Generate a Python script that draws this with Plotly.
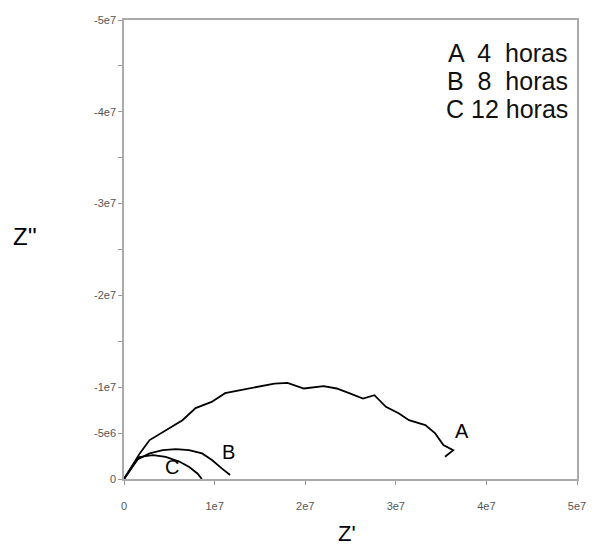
import plotly.graph_objects as go

# Curve A (4 horas)
a_x = [0, 0.174e7, 0.283e7, 0.464e7, 0.645e7, 0.790e7, 0.967e7, 1.116e7, 1.293e7, 1.478e7,
       1.660e7, 1.804e7, 1.986e7, 2.203e7, 2.348e7, 2.492e7, 2.638e7, 2.764e7, 2.891e7,
       3.036e7, 3.145e7, 3.326e7, 3.435e7, 3.525e7, 3.634e7, 3.543e7]
a_y = [0, -0.279e7, -0.424e7, -0.533e7, -0.641e7, -0.772e7, -0.840e7, -0.935e7, -0.967e7, -1.003e7,
       -1.040e7, -1.047e7, -0.986e7, -1.011e7, -0.986e7, -0.932e7, -0.877e7, -0.913e7, -0.786e7,
       -0.714e7, -0.641e7, -0.587e7, -0.497e7, -0.370e7, -0.315e7, -0.242e7]
# Curve B (8 horas)
b_x = [0, 0.138e7, 0.283e7, 0.427e7, 0.573e7, 0.717e7, 0.862e7, 0.971e7, 1.079e7, 1.171e7]
b_y = [0, -0.207e7, -0.279e7, -0.315e7, -0.326e7, -0.315e7, -0.279e7, -0.207e7, -0.116e7, -0.043e7]
# Curve C (12 horas)
c_x = [0, 0.17e7, 0.32e7, 0.46e7, 0.61e7, 0.72e7, 0.81e7, 0.86e7]
c_y = [0, -0.24e7, -0.26e7, -0.24e7, -0.19e7, -0.13e7, -0.06e7, 0]

x_ticks = [0, 1e7, 2e7, 3e7, 4e7, 5e7]
x_labels = ["0", "1e7", "2e7", "3e7", "4e7", "5e7"]
y_ticks = [0, -5e6, -1e7, -1.5e7, -2e7, -2.5e7, -3e7, -3.5e7, -4e7, -4.5e7, -5e7]
y_labels = ["0", "-5e6", "-1e7", "", "-2e7", "", "-3e7", "", "-4e7", "", "-5e7"]

curve_labels = ["A", "B", "C"]
label_x = [3.73e7, 1.15e7, 0.53e7]
label_y = [-0.52e7, -0.29e7, -0.13e7]
legend_lines = ["A  4  horas", "B  8  horas", "C 12 horas"]

FONT = "Arial, Liberation Sans, sans-serif"

fig = go.Figure()
for xs, ys in [(a_x, a_y), (b_x, b_y), (c_x, c_y)]:
    fig.add_trace(go.Scatter(x=xs, y=ys, mode="lines",
                             line=dict(color="black", width=1.8), showlegend=False))

for t, lx, ly in zip(curve_labels, label_x, label_y):
    fig.add_annotation(x=lx, y=ly, text=t, showarrow=False,
                       font=dict(family=FONT, size=20, color="black"))

for i, line in enumerate(legend_lines):
    fig.add_annotation(xref="paper", yref="paper", x=0.985, y=(479 - 52 - 28 * i) / 460,
                       xanchor="right", yanchor="middle", text=line, showarrow=False,
                       font=dict(family=FONT, size=25, color="#111111"))

fig.add_annotation(xref="paper", yref="paper", x=(23 - 124) / 460, y=(479 - 236) / 460,
                   xanchor="center", yanchor="middle", text="Z''", showarrow=False,
                   font=dict(family=FONT, size=24, color="black"))
fig.add_annotation(xref="paper", yref="paper", x=(350 - 124) / 460, y=(479 - 534) / 460,
                   xanchor="center", yanchor="middle", text="Z'", showarrow=False,
                   font=dict(family=FONT, size=22, color="black"))

axis_common = dict(showline=True, mirror=True, linecolor="#aaaaaa", linewidth=1.5,
                   showgrid=False, zeroline=False, ticks="outside", tickcolor="#999999",
                   ticklen=4, tickfont=dict(family=FONT, size=11, color="#555555"))
fig.update_xaxes(range=[0, 5e7], tickvals=x_ticks, ticktext=x_labels,
                 ticklabelstandoff=12, **axis_common)
fig.update_yaxes(range=[0, -5e7], tickvals=y_ticks, ticktext=y_labels, **axis_common)

fig.update_layout(width=598, height=549, margin=dict(l=124, r=14, t=20, b=70),
                  plot_bgcolor="white", paper_bgcolor="white")
fig.write_html("out.html")
